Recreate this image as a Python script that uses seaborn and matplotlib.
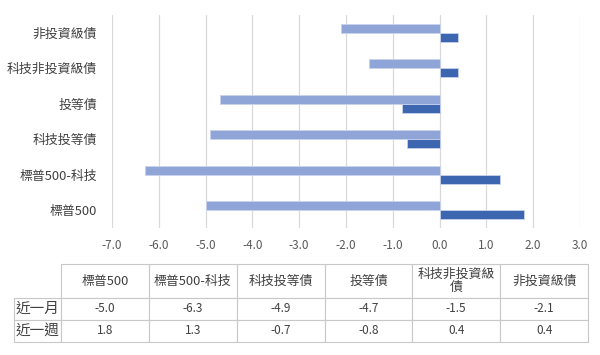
import pandas as pd
import matplotlib.pyplot as plt
import seaborn as sns

categories = ['標普500', '標普500-科技', '科技投等債', '投等債', '科技非投資級債', '非投資級債']
header_labels = ['標普500', '標普500-科技', '科技投等債', '投等債', '科技非投資級\n債', '非投資級債']
series = ['近一月', '近一週']
month_vals = [-5.0, -6.3, -4.9, -4.7, -1.5, -2.1]
week_vals = [1.8, 1.3, -0.7, -0.8, 0.4, 0.4]
x_ticks = [-7, -6, -5, -4, -3, -2, -1, 0, 1, 2, 3]

sns.set_style("white")
plt.rcParams['font.family'] = ['Noto Sans CJK TC', 'DejaVu Sans']

df = pd.DataFrame({
    'cat': categories * 2,
    'series': [series[0]] * len(categories) + [series[1]] * len(categories),
    'value': month_vals + week_vals,
})

fig = plt.figure(figsize=(6, 3.55), dpi=100)
W, H = 600, 355
ax = fig.add_axes([112 / W, 1 - 228 / H, (580 - 112) / W, (228 - 15) / H])

palette = {'近一月': '#8FA5D7', '近一週': '#3D66B1'}
sns.barplot(data=df, x='value', y='cat', hue='series', order=categories[::-1],
            hue_order=series, palette=palette, orient='h', width=0.52,
            edgecolor='#C9D3EC', linewidth=0.6, saturation=1, ax=ax, legend=False)

ax.set_xlim(-7, 3)
ax.set_xticks(x_ticks)
ax.set_xticklabels([f'{t:.1f}' for t in x_ticks], fontsize=8.5, color='#595959')
ax.tick_params(axis='y', labelsize=9.3, labelcolor='#404040', length=0, pad=11)
ax.tick_params(axis='x', length=0, pad=8)
ax.grid(axis='x', color='#D9D9D9', linewidth=0.9)
ax.set_axisbelow(True)
for s in ax.spines.values():
    s.set_visible(False)
ax.set_xlabel('')
ax.set_ylabel('')

# data table below the chart (row label as first column)
left, right, top, bottom = 14, 588, 264, 342
lab_w = 47
col_w = (right - left - lab_w) / 6
head_h, row_h = 34, 22
tax = fig.add_axes([left / W, 1 - bottom / H, (right - left) / W, (bottom - top) / H])
tax.axis('off')
cell_text = [[series[0]] + [f'{v:.1f}' for v in month_vals],
             [series[1]] + [f'{v:.1f}' for v in week_vals]]
tbl = tax.table(cellText=cell_text, colLabels=[''] + header_labels,
                cellLoc='center', bbox=[0, 0, 1, 1])
tbl.auto_set_font_size(False)
for (r, c), cell in tbl.get_celld().items():
    cell.set_edgecolor('#C8C8C8')
    cell.set_linewidth(0.8)
    cell.set_width(lab_w if c == 0 else col_w)
    cell.set_height(head_h if r == 0 else row_h)
    txt = cell.get_text()
    txt.set_color('#404040')
    if r == 0:
        txt.set_fontsize(9.3)
        txt.set_linespacing(1.0)
        if c == 0:
            cell.visible_edges = ''
    elif c == 0:
        txt.set_fontsize(10.5)
        cell._loc = 'left'
        cell.PAD = 0.02
    else:
        txt.set_fontsize(8.5)

fig.savefig('out.png', dpi=100)
